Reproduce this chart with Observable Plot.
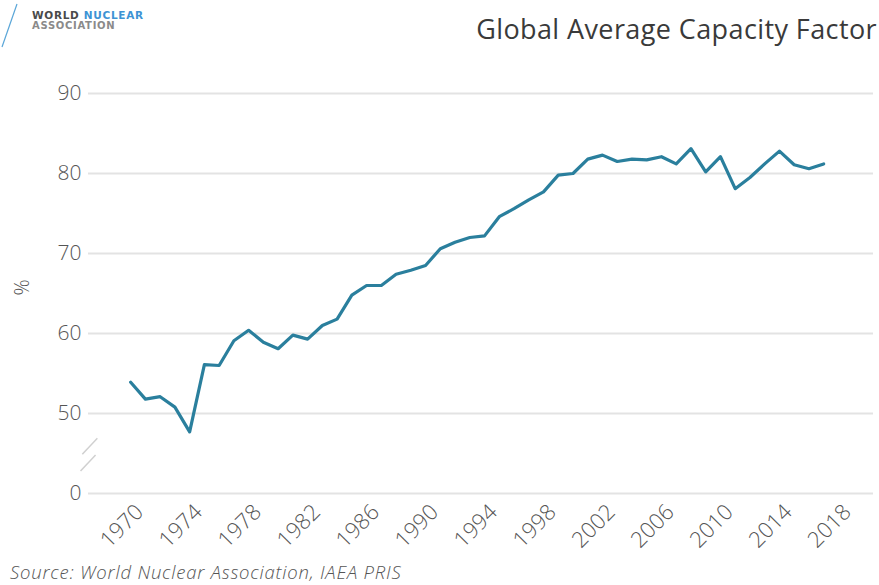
<!DOCTYPE html>
<html>
<head>
<meta charset="utf-8">
<script src="https://cdn.jsdelivr.net/npm/d3@7"></script>
<script src="https://cdn.jsdelivr.net/npm/@observablehq/plot@0.6"></script>
<style>
  html, body { margin: 0; padding: 0; background: #fff; }
  #chart { position: relative; width: 879px; height: 585px; font-family: "Open Sans", "DejaVu Sans", sans-serif; overflow: hidden; }
  #chart svg { position: absolute; left: 0; top: 0; }
  .logo { position: absolute; left: 32px; top: 10px; font-family: "DejaVu Sans", sans-serif; font-weight: bold; font-size: 10.5px; letter-spacing: 0.7px; line-height: 10px; }
  .logo .w { color: #4a4a4a; }
  .logo .n { color: #3d93d4; }
  .logo .a { color: #8a8a8a; font-size: 10px; }
  .slash { position: absolute; left: 10px; top: 10px; width: 20px; height: 50px; }
  .title { position: absolute; right: 2px; top: 10px; font-size: 27px; font-weight: 400; color: #3a3a3a; letter-spacing: 0.4px; }
  .caption { position: absolute; left: 10px; top: 559px; font-size: 18.5px; font-weight: 300; font-style: italic; color: #555; letter-spacing: 0.8px; }
</style>
</head>
<body>
<div id="chart">
  <svg class="slash" viewBox="0 0 20 50"><line x1="2" y1="47" x2="17" y2="4" stroke="#5aa6d8" stroke-width="1.2"/></svg>
  <div class="logo"><span class="w">WORLD</span> <span class="n">NUCLEAR</span><br><span class="a">ASSOCIATION</span></div>
  <div class="title">Global Average Capacity Factor</div>
  <div class="caption">Source: World Nuclear Association, IAEA PRIS</div>
</div>
<script>
// Annual global average capacity factor of nuclear reactors (%)
const years = [
  1970, 1971, 1972, 1973, 1974, 1975, 1976, 1977, 1978, 1979,
  1980, 1981, 1982, 1983, 1984, 1985, 1986, 1987, 1988, 1989,
  1990, 1991, 1992, 1993, 1994, 1995, 1996, 1997, 1998, 1999,
  2000, 2001, 2002, 2003, 2004, 2005, 2006, 2007, 2008, 2009,
  2010, 2011, 2012, 2013, 2014, 2015, 2016, 2017
];
const capacityFactor = [
  53.9, 51.8, 52.1, 50.8, 47.7, 56.1, 56.0, 59.1, 60.4, 58.9,
  58.1, 59.8, 59.3, 61.0, 61.8, 64.8, 66.0, 66.0, 67.4, 67.9,
  68.5, 70.6, 71.4, 72.0, 72.2, 74.6, 75.6, 76.7, 77.7, 79.8,
  80.0, 81.8, 82.3, 81.5, 81.8, 81.7, 82.1, 81.2, 83.1, 80.2,
  82.1, 78.1, 79.5, 81.2, 82.8, 81.1, 80.6, 81.2
];

// The y axis is broken below 50: the bottom gridline stands for zero
const yTicks = [40, 50, 60, 70, 80, 90];
const yTickLabels = ["0", "50", "60", "70", "80", "90"];
const xTicks = [1970, 1974, 1978, 1982, 1986, 1990, 1994, 1998, 2002, 2006, 2010, 2014, 2018];

// Two short strokes marking the axis break
const breakStrokes = [
  {x1: 1967.74, y1: 46.9, x2: 1966.72, y2: 44.9},
  {x1: 1967.62, y1: 44.8, x2: 1966.60, y2: 42.8}
];

const data = years.map((year, i) => ({year, value: capacityFactor[i]}));

const plot = Plot.plot({
  width: 879,
  height: 585,
  marginLeft: 88,
  marginRight: 6,
  marginTop: 93,
  marginBottom: 92,
  style: {fontFamily: "'Open Sans', 'DejaVu Sans', sans-serif", fontWeight: 300, fontSize: "18px", color: "#666", background: "transparent", overflow: "visible"},
  x: {domain: [1967.14, 2020.38]},
  y: {domain: [40, 90]},
  marks: [
    Plot.ruleY(yTicks, {stroke: "#e3e3e3", strokeWidth: 2}),
    Plot.axisY({ticks: yTicks, tickSize: 0, tickPadding: 7, fontSize: 21, tickFormat: d => yTickLabels[yTicks.indexOf(d)], label: null, fill: "#555", style: {letterSpacing: "1.5px"}}),
    Plot.axisX({ticks: xTicks, tickSize: 0, tickPadding: 15, dx: 9, fontSize: 22, tickRotate: -45, tickFormat: d => String(d), label: null, fill: "#555", style: {letterSpacing: "1.5px"}}),
    Plot.text(["%"], {frameAnchor: "left", dx: -66, dy: 2, rotate: -90, fill: "#555", fontSize: 20}),
    Plot.link(breakStrokes, {x1: "x1", y1: "y1", x2: "x2", y2: "y2", stroke: "#d0d0d0", strokeWidth: 1.5}),
    Plot.line(data, {x: "year", y: "value", stroke: "#2a7f9d", strokeWidth: 3.2, strokeLinejoin: "round"})
  ]
});

document.getElementById("chart").prepend(plot);
</script>
</body>
</html>
